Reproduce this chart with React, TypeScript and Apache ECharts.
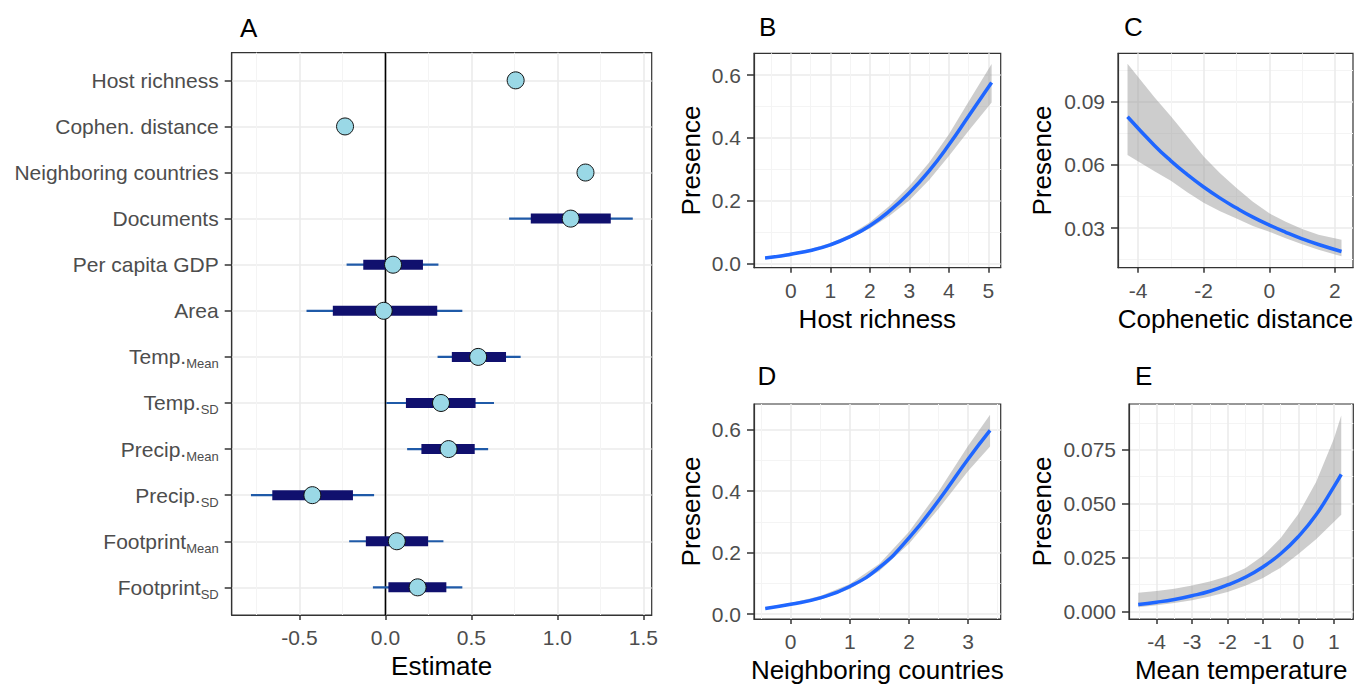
import React, { useEffect, useRef } from "react";
import * as echarts from "echarts";

const FONT = "'Liberation Sans', Arial, Helvetica, sans-serif";

// ---------- Panel A: coefficient estimates ----------
const catMain = ["Host richness", "Cophen. distance", "Neighboring countries", "Documents", "Per capita GDP", "Area", "Temp.", "Temp.", "Precip.", "Precip.", "Footprint", "Footprint"];
const catSub = ["", "", "", "", "", "", "Mean", "SD", "Mean", "SD", "Mean", "SD"];
const estimate = [0.757, -0.235, 1.163, 1.077, 0.044, -0.01, 0.539, 0.323, 0.367, -0.425, 0.066, 0.187];
const innerLo = [null, null, null, 0.845, -0.129, -0.306, 0.386, 0.119, 0.209, -0.658, -0.114, 0.017];
const innerHi = [null, null, null, 1.31, 0.218, 0.301, 0.701, 0.524, 0.519, -0.189, 0.248, 0.354];
const outerLo = [null, null, null, 0.719, -0.226, -0.459, 0.303, 0.005, 0.126, -0.782, -0.211, -0.073];
const outerHi = [null, null, null, 1.438, 0.308, 0.447, 0.786, 0.631, 0.597, -0.066, 0.337, 0.447];

// ---------- Panel B: host richness ----------
const bX = [-0.65, -0.25, 0, 0.5, 1, 1.5, 2, 2.5, 3, 3.5, 4, 4.5, 5.08];
const bFit = [0.017, 0.023, 0.029, 0.041, 0.059, 0.085, 0.12, 0.167, 0.225, 0.295, 0.378, 0.47, 0.577];
const bLo = [0.013, 0.019, 0.025, 0.037, 0.054, 0.079, 0.111, 0.152, 0.201, 0.266, 0.342, 0.423, 0.513];
const bHi = [0.021, 0.027, 0.033, 0.046, 0.065, 0.092, 0.131, 0.184, 0.247, 0.322, 0.412, 0.516, 0.636];

// ---------- Panel C: cophenetic distance ----------
const cX = [-4.32, -3.5, -3, -2.5, -2, -1.5, -1, -0.5, 0, 0.5, 1, 1.5, 2.2];
const cFit = [0.0828, 0.0692, 0.0619, 0.0554, 0.0495, 0.0442, 0.0395, 0.0352, 0.0314, 0.028, 0.0249, 0.0222, 0.0189];
const cLo = [0.0647, 0.057, 0.0525, 0.047, 0.042, 0.038, 0.0345, 0.031, 0.0283, 0.0252, 0.0223, 0.0197, 0.0166];
const cHi = [0.108, 0.092, 0.083, 0.0735, 0.064, 0.056, 0.049, 0.0425, 0.037, 0.033, 0.0295, 0.0268, 0.0245];

// ---------- Panel D: neighboring countries ----------
const dX = [-0.43, 0, 0.5, 1, 1.5, 2, 2.5, 3, 3.37];
const dFit = [0.0185, 0.032, 0.053, 0.09, 0.152, 0.248, 0.37, 0.505, 0.598];
const dLo = [0.015, 0.028, 0.047, 0.082, 0.14, 0.229, 0.343, 0.466, 0.546];
const dHi = [0.022, 0.036, 0.059, 0.098, 0.164, 0.268, 0.399, 0.548, 0.649];

// ---------- Panel E: mean temperature ----------
const eX = [-4.52, -4, -3.5, -3, -2.5, -2, -1.5, -1, -0.5, 0, 0.5, 1, 1.21];
const eFit = [0.0031, 0.0042, 0.0055, 0.0072, 0.0093, 0.0122, 0.0158, 0.0206, 0.0267, 0.0347, 0.0448, 0.0578, 0.0636];
const eLo = [0.0019, 0.0028, 0.0038, 0.0051, 0.0068, 0.009, 0.0118, 0.0155, 0.0202, 0.0266, 0.0335, 0.0415, 0.0448];
const eHi = [0.0086, 0.0094, 0.0105, 0.012, 0.0138, 0.0163, 0.02, 0.0258, 0.034, 0.0452, 0.06, 0.08, 0.091];

const TICK_COLOR = "#4d4d4d";
const BORDER = "#333333";

function valueAxis(gridIndex: number, min: number, max: number, step: number, fmt: (v: number) => string, name: string, isY: boolean, nameGap: number, minor: boolean) {
  return {
    type: "value",
    gridIndex,
    min,
    max,
    minInterval: step,
    maxInterval: step,
    splitNumber: 5,
    name,
    nameLocation: "middle",
    nameGap,
    nameTextStyle: { fontSize: 26, color: "#000", fontFamily: FONT },
    axisLine: { show: true, onZero: false, lineStyle: { color: BORDER, width: 1.2 } },
    axisTick: { show: true, length: isY ? 7 : 5, lineStyle: { color: BORDER, width: 1.5 } },
    axisLabel: {
      show: true,
      margin: isY ? 13 : 12,
      color: TICK_COLOR,
      fontSize: 21,
      fontFamily: FONT,
      showMinLabel: false,
      showMaxLabel: false,
      formatter: fmt,
    },
    splitLine: { show: true, showMinLine: false, showMaxLine: false, lineStyle: { color: "#ebebeb", width: 1.6 } },
    minorTick: { show: false, splitNumber: 2 },
    minorSplitLine: { show: minor, lineStyle: { color: "#f4f4f4", width: 1 } },
  };
}

function curveSeries(idx: number, xs: number[], fit: number[], lo: number[], hi: number[]) {
  return [
    {
      type: "custom",
      xAxisIndex: idx,
      yAxisIndex: idx,
      data: xs.map((x, i) => [x, lo[i], hi[i]]),
      encode: { x: 0, y: [1, 2] },
      silent: true,
      z: 2,
      renderItem: (params: any, api: any) => {
        if (params.dataIndex !== 0) return null;
        const upper = xs.map((x, i) => api.coord([x, hi[i]]));
        const lower = xs.map((x, i) => api.coord([x, lo[i]])).reverse();
        return {
          type: "polygon",
          shape: { points: upper.concat(lower) },
          style: { fill: "rgba(150,150,150,0.48)" },
        };
      },
    },
    {
      type: "line",
      xAxisIndex: idx,
      yAxisIndex: idx,
      data: xs.map((x, i) => [x, fit[i]]),
      symbol: "none",
      smooth: 0.5,
      silent: true,
      lineStyle: { color: "#1f66ff", width: 3.5 },
      z: 3,
    },
  ];
}

export default function App() {
  const ref = useRef<HTMLDivElement>(null);

  useEffect(() => {
    if (!ref.current) return;
    const chart = echarts.init(ref.current, null, { renderer: "svg" });

    const gridBase = { show: true, borderColor: BORDER, borderWidth: 1.2, backgroundColor: "#fff", containLabel: false };
    const grids = [
      { left: 231.7, top: 52.7, width: 420, height: 567.3 },
      { left: 754, top: 53.3, width: 246.7, height: 214.4 },
      { left: 1118, top: 53.3, width: 235, height: 214.4 },
      { left: 754, top: 404, width: 246.7, height: 216 },
      { left: 1129, top: 404, width: 224.3, height: 216 },
    ].map((g) => ({ ...gridBase, ...g }));

    const f1 = (v: number) => v.toFixed(1);
    const f0 = (v: number) => String(Math.round(v));
    const f2 = (v: number) => v.toFixed(2);
    const f3 = (v: number) => v.toFixed(3);

    const yA: any = valueAxis(0, -0.6, 11.6, 1, (v: number) => {
      if (!Number.isInteger(v)) return "";
      const m = catMain[v];
      const s = catSub[v];
      return s ? `{m|${m}}{s|${s}}` : `{m|${m}}`;
    }, "", true, 0, false);
    yA.inverse = true;
    yA.axisLabel.rich = {
      m: { fontSize: 21, color: TICK_COLOR, fontFamily: FONT },
      s: { fontSize: 13, color: TICK_COLOR, fontFamily: FONT, padding: [14, 0, 0, 0] },
    };

    const xAxes = [
      valueAxis(0, -0.894, 1.548, 0.5, f1, "Estimate", false, 38, true),
      valueAxis(1, -0.93, 5.31, 1, f0, "Host richness", false, 38, true),
      valueAxis(2, -4.61, 2.55, 2, f0, "Cophenetic distance", false, 38, true),
      valueAxis(3, -0.62, 3.55, 1, f0, "Neighboring countries", false, 38, true),
      valueAxis(4, -4.78, 1.55, 1, f0, "Mean temperature", false, 38, true),
    ];
    const yAxes = [
      yA,
      valueAxis(1, -0.014, 0.67, 0.2, f1, "Presence", true, 50, true),
      valueAxis(2, 0.0112, 0.1129, 0.03, f2, "Presence", true, 63, true),
      valueAxis(3, -0.016, 0.684, 0.2, f1, "Presence", true, 50, true),
      valueAxis(4, -0.0036, 0.0963, 0.025, f3, "Presence", true, 74, true),
    ];

    const idxs = estimate.map((_, i) => i);
    const outerData = idxs.filter((i) => outerLo[i] != null).map((i) => [outerLo[i], outerHi[i], i]);
    const innerData = idxs.filter((i) => innerLo[i] != null).map((i) => [innerLo[i], innerHi[i], i]);

    const series: any[] = [
      {
        type: "line",
        xAxisIndex: 0,
        yAxisIndex: 0,
        data: [[0, -0.6], [0, 11.6]],
        symbol: "none",
        silent: true,
        lineStyle: { color: "#000", width: 1.6 },
        z: 2,
      },
      {
        type: "custom",
        xAxisIndex: 0,
        yAxisIndex: 0,
        data: outerData,
        encode: { x: [0, 1], y: 2 },
        silent: true,
        z: 3,
        renderItem: (params: any, api: any) => {
          const p1 = api.coord([api.value(0), api.value(2)]);
          const p2 = api.coord([api.value(1), api.value(2)]);
          return {
            type: "line",
            shape: { x1: p1[0], y1: p1[1], x2: p2[0], y2: p2[1] },
            style: { stroke: "#1f5aa8", lineWidth: 2.2 },
          };
        },
      },
      {
        type: "custom",
        xAxisIndex: 0,
        yAxisIndex: 0,
        data: innerData,
        encode: { x: [0, 1], y: 2 },
        silent: true,
        z: 4,
        renderItem: (params: any, api: any) => {
          const p1 = api.coord([api.value(0), api.value(2)]);
          const p2 = api.coord([api.value(1), api.value(2)]);
          return {
            type: "rect",
            shape: { x: p1[0], y: p1[1] - 5, width: p2[0] - p1[0], height: 10 },
            style: { fill: "#10106e" },
          };
        },
      },
      {
        type: "scatter",
        xAxisIndex: 0,
        yAxisIndex: 0,
        data: estimate.map((v, i) => [v, i]),
        symbol: "circle",
        symbolSize: 17,
        silent: true,
        itemStyle: { color: "#9ad8e6", borderColor: "#111", borderWidth: 1, opacity: 1 },
        z: 5,
      },
      ...curveSeries(1, bX, bFit, bLo, bHi),
      ...curveSeries(2, cX, cFit, cLo, cHi),
      ...curveSeries(3, dX, dFit, dLo, dHi),
      ...curveSeries(4, eX, eFit, eLo, eHi),
    ];

    const letter = (t: string, x: number, y: number) => ({
      type: "text",
      x,
      y,
      style: { text: t, fontSize: 26, fontFamily: FONT, fill: "#000", verticalAlign: "middle", align: "left" },
    });

    chart.setOption({
      animation: false,
      backgroundColor: "#fff",
      grid: grids,
      xAxis: xAxes,
      yAxis: yAxes,
      series,
      graphic: [
        letter("A", 240, 28),
        letter("B", 759, 27),
        letter("C", 1124, 27),
        letter("D", 757.5, 376),
        letter("E", 1135, 376),
      ],
    });

    return () => chart.dispose();
  }, []);

  return <div ref={ref} style={{ position: "absolute", left: 0, top: 0, width: 1372, height: 684 }} />;
}
